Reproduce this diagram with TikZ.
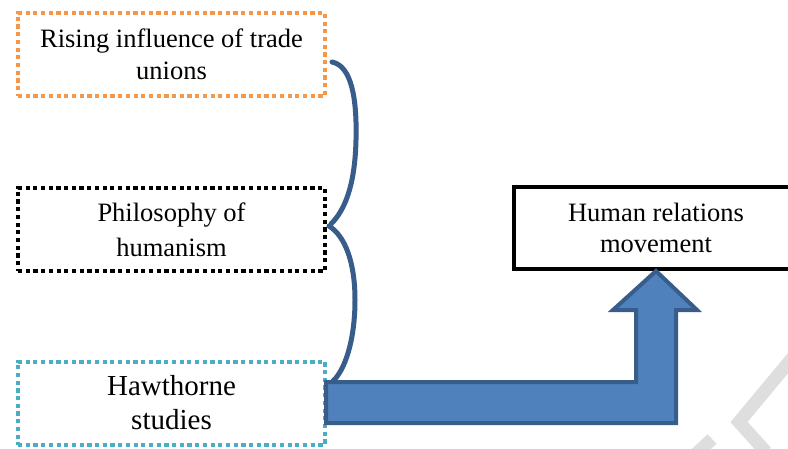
\documentclass[tikz,border=0pt]{standalone}
\usepackage{fontspec}
\setmainfont{Liberation Serif}
\definecolor{borange}{HTML}{F79646}
\definecolor{bcyan}{HTML}{4BACC6}
\definecolor{afill}{HTML}{4F81BD}
\definecolor{aline}{HTML}{385D8A}
\definecolor{wmgray}{HTML}{DEDEDE}
\begin{document}
\begin{tikzpicture}[x=1pt,y=-1pt,
  srcbox/.style={rectangle, draw, line width=4pt, dash pattern=on 4.2pt off 3.5pt,
    minimum width=307pt, minimum height=83pt, inner sep=0pt, align=center,
    font=\fontsize{26.5}{32}\selectfont},
  resultbox/.style={rectangle, draw=black, line width=4pt, minimum width=284pt,
    minimum height=82pt, inner sep=0pt, align=center, font=\fontsize{26.5}{31}\selectfont},
  bracepart/.style={draw=aline, line width=5pt, line cap=round},
  blockarrow/.style={fill=afill, draw=aline, line width=4pt, line join=miter},
  wm/.style={draw=wmgray, line width=13pt}]
\clip (0,0) rectangle (788,448);
\fill[white] (0,0) rectangle (788,448);
% watermark fragments
\draw[wm] (794,356) -- (739,422) -- (766,452);
\draw[wm] (696,454) -- (712,439);
% source boxes
\node[srcbox, draw=borange] (trade) at (171.5,54.5) {Rising influence of trade\\unions};
\node[srcbox, draw=black, font=\fontsize{26.5}{35}\selectfont] (phil) at (171.5,229.5) {Philosophy of\\humanism};
\node[srcbox, draw=bcyan, font=\fontsize{29}{34}\selectfont] (haw) at (171.5,403) {Hawthorne\\studies};
% result box
\node[resultbox] (hr) at (656,228) {Human relations\\movement};
% brace
\draw[bracepart] (332,62) .. controls (352,66) and (357,100) .. (356,140)
  .. controls (355,185) and (345,210) .. (331,224);
\draw[bracepart] (329,226) .. controls (345,236) and (355,262) .. (355,300)
  .. controls (355,340) and (345,370) .. (333,381);
% bent block arrow from Hawthorne studies to Human relations movement
\coordinate (tip) at (hr.south);
\draw[blockarrow] (326,382) -- (636,382) -- (636,310) -- (613,310) -- (tip)
  -- (697,310) -- (676,310) -- (676,423) -- (326,423) -- cycle;
\end{tikzpicture}
\end{document}
